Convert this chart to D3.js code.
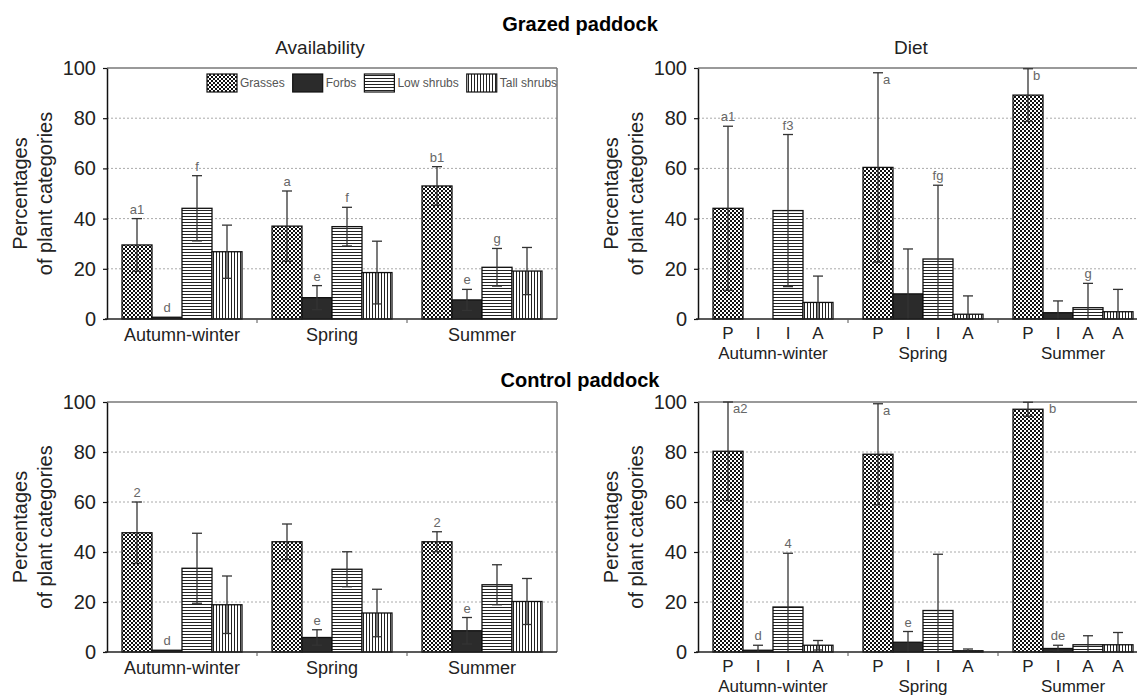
<!DOCTYPE html>
<html>
<head>
<meta charset="utf-8">
<script src="https://cdn.jsdelivr.net/npm/d3@7"></script>
<style>
  body { margin: 0; background: #fff; }
  svg { font-family: "Liberation Sans", Arial, sans-serif; }
</style>
</head>
<body>
<svg id="chart" width="1137" height="695"></svg>
<script>
const seasons = ["Autumn-winter", "Spring", "Summer"];
const plantTypes = ["Grasses", "Forbs", "Low shrubs", "Tall shrubs"];
const yTicks = [0, 20, 40, 60, 80, 100];

// Grazed paddock - availability (mean, error, letters) per season: [grasses, forbs, low, tall]
const grazedAvailMean = [[29.5, 0.7, 44.1, 26.8], [37.0, 8.5, 36.8, 18.5], [53.0, 7.6, 20.6, 19.1]];
const grazedAvailErr = [[10.5, 0, 13.0, 10.6], [14.0, 4.8, 7.7, 12.5], [7.7, 4.2, 7.5, 9.4]];
const grazedAvailSig = [["a1", "d", "f", ""], ["a", "e", "f", ""], ["b1", "e", "g", ""]];

// Grazed paddock - diet
const grazedDietMean = [[44.1, 0, 43.2, 6.6], [60.4, 10.0, 23.9, 1.9], [89.2, 2.5, 4.5, 2.9]];
const grazedDietErr = [[32.7, 0, 30.3, 10.5], [37.7, 17.9, 29.4, 7.3], [10.5, 4.7, 9.7, 8.9]];
const grazedDietSig = [["a1", "", "f3", ""], ["a", "", "fg", ""], ["b", "", "g", ""]];
const grazedDietCodes = [["P", "I", "I", "A"], ["P", "I", "I", "A"], ["P", "I", "A", "A"]];

// Control paddock - availability
const controlAvailMean = [[47.7, 0.7, 33.5, 18.9], [44.1, 5.8, 33.1, 15.6], [44.1, 8.5, 26.9, 20.2]];
const controlAvailErr = [[12.3, 0, 14.0, 11.5], [7.1, 3.1, 7.0, 9.5], [4.0, 5.3, 8.0, 9.2]];
const controlAvailSig = [["2", "d", "", ""], ["", "e", "", ""], ["2", "e", "", ""]];

// Control paddock - diet
const controlDietMean = [[80.3, 0.7, 18.0, 2.7], [79.1, 3.9, 16.6, 0.5], [97.1, 1.4, 2.9, 2.9]];
const controlDietErr = [[19.7, 2.0, 21.5, 1.9], [20.2, 4.3, 22.5, 0.7], [2.8, 1.3, 3.6, 4.9]];
const controlDietSig = [["a2", "d", "4", ""], ["a", "e", "", ""], ["b", "de", "", ""]];
const controlDietCodes = [["P", "I", "I", "A"], ["P", "I", "I", "A"], ["P", "I", "A", "A"]];

const svg = d3.select("#chart");

// Fill patterns for plant categories
const defs = svg.append("defs");

const grassPat = defs.append("pattern")
  .attr("id", "pat-grass")
  .attr("patternUnits", "userSpaceOnUse")
  .attr("width", 4).attr("height", 4);
grassPat.append("rect").attr("width", 4).attr("height", 4).attr("fill", "#fff");
grassPat.append("rect").attr("width", 2).attr("height", 2).attr("fill", "#111");
grassPat.append("rect").attr("x", 2).attr("y", 2).attr("width", 2).attr("height", 2).attr("fill", "#111");

const lowPat = defs.append("pattern")
  .attr("id", "pat-low")
  .attr("patternUnits", "userSpaceOnUse")
  .attr("width", 4).attr("height", 3);
lowPat.append("rect").attr("width", 4).attr("height", 3).attr("fill", "#fff");
lowPat.append("rect").attr("y", 1).attr("width", 4).attr("height", 1).attr("fill", "#222");

const tallPat = defs.append("pattern")
  .attr("id", "pat-tall")
  .attr("patternUnits", "userSpaceOnUse")
  .attr("width", 3).attr("height", 4);
tallPat.append("rect").attr("width", 3).attr("height", 4).attr("fill", "#fff");
tallPat.append("rect").attr("x", 1).attr("width", 1).attr("height", 4).attr("fill", "#222");

const fills = d3.scaleOrdinal()
  .domain(plantTypes)
  .range(["url(#pat-grass)", "#2b2b2b", "url(#pat-low)", "url(#pat-tall)"]);

// Section headings
svg.append("text")
  .attr("x", 580).attr("y", 31)
  .attr("text-anchor", "middle")
  .style("font-size", "20px").style("font-weight", "bold")
  .text("Grazed paddock");

svg.append("text")
  .attr("x", 580).attr("y", 387)
  .attr("text-anchor", "middle")
  .style("font-size", "20px").style("font-weight", "bold")
  .text("Control paddock");

function drawPanel(p) {
  const g = svg.append("g").attr("transform", `translate(${p.x},${p.y})`);

  const y = d3.scaleLinear().domain([0, 100]).range([p.h, 0]);
  const x0 = d3.scaleBand().domain(seasons).range([0, p.w]).padding(0);
  const x1 = d3.scaleBand().domain(plantTypes).range([0, x0.bandwidth()])
    .paddingInner(0).paddingOuter(0.5);

  // Dotted gridlines
  g.selectAll(".grid")
    .data(yTicks.filter(t => t > 0 && t < 100))
    .enter().append("line")
    .attr("x1", 0).attr("x2", p.w)
    .attr("y1", d => y(d)).attr("y2", d => y(d))
    .attr("stroke", "#aaa")
    .attr("stroke-dasharray", "2,2");

  // Frame top and right
  g.append("line")
    .attr("x1", 0).attr("x2", p.w).attr("y1", y(100)).attr("y2", y(100))
    .attr("stroke", "#777").attr("stroke-width", 1.5);
  g.append("line")
    .attr("x1", p.w).attr("x2", p.w).attr("y1", y(100)).attr("y2", y(0))
    .attr("stroke", "#777").attr("stroke-width", 1.5);

  // Flatten the season x plant-type grid into rows
  const rows = [];
  seasons.forEach((s, i) => {
    plantTypes.forEach((t, j) => {
      rows.push({
        season: s, type: t,
        mean: p.mean[i][j], err: p.err[i][j],
        sig: p.sig[i][j],
        code: p.codes ? p.codes[i][j] : null
      });
    });
  });
  const cx = d => x0(d.season) + x1(d.type) + x1.bandwidth() / 2;

  // Bars
  g.selectAll(".bar")
    .data(rows.filter(d => d.mean > 0))
    .enter().append("rect")
    .attr("class", "bar")
    .attr("x", d => x0(d.season) + x1(d.type))
    .attr("y", d => y(d.mean))
    .attr("width", x1.bandwidth())
    .attr("height", d => y(0) - y(d.mean))
    .attr("fill", d => fills(d.type))
    .attr("stroke", "#111")
    .attr("stroke-width", 1.3);

  // Error bars
  const errRows = rows.filter(d => d.err > 0);
  const eb = g.selectAll(".err")
    .data(errRows)
    .enter().append("g")
    .attr("class", "err")
    .attr("stroke", "#333")
    .attr("stroke-width", 1.3);
  eb.append("line")
    .attr("x1", cx).attr("x2", cx)
    .attr("y1", d => y(Math.min(100, d.mean + d.err)))
    .attr("y2", d => y(Math.max(0, d.mean - d.err)));
  eb.append("line")
    .attr("x1", d => cx(d) - 5).attr("x2", d => cx(d) + 5)
    .attr("y1", d => y(Math.min(100, d.mean + d.err)))
    .attr("y2", d => y(Math.min(100, d.mean + d.err)));
  eb.filter(d => d.mean - d.err > 0).append("line")
    .attr("x1", d => cx(d) - 5).attr("x2", d => cx(d) + 5)
    .attr("y1", d => y(d.mean - d.err))
    .attr("y2", d => y(d.mean - d.err));

  // Significance letters: above the bar, or beside the cap when it reaches the top
  const atTop = d => d.mean + d.err >= 95;
  g.selectAll(".sig")
    .data(rows.filter(d => d.sig))
    .enter().append("text")
    .attr("class", "sig")
    .attr("x", d => {
      if (!atTop(d)) return cx(d);
      return d.mean > 90 ? cx(d) + x1.bandwidth() / 2 + 6 : cx(d) + 5;
    })
    .attr("y", d => (atTop(d)
      ? y(Math.min(100, d.mean + d.err)) + 11
      : y(d.mean + d.err) - 5))
    .attr("text-anchor", d => (atTop(d) ? "start" : "middle"))
    .style("font-size", "13px")
    .style("fill", "#666")
    .text(d => d.sig);

  // Y axis
  const yAxis = g.append("g")
    .call(d3.axisLeft(y).tickValues(yTicks).tickSize(4).tickSizeOuter(0).tickPadding(7));
  yAxis.select(".domain").attr("stroke", "#111").attr("stroke-width", 1.5);
  yAxis.selectAll(".tick line").attr("stroke", "#111").attr("stroke-width", 1.2);
  yAxis.selectAll(".tick text")
    .style("font-size", "20px")
    .style("font-family", "'Liberation Sans', Arial, sans-serif")
    .attr("fill", "#222");

  // X axis baseline and season separators
  g.append("line")
    .attr("x1", -2).attr("x2", p.w)
    .attr("y1", y(0)).attr("y2", y(0))
    .attr("stroke", "#222").attr("stroke-width", 1.5);
  g.selectAll(".sep")
    .data(seasons.slice(1))
    .enter().append("line")
    .attr("x1", d => x0(d)).attr("x2", d => x0(d))
    .attr("y1", y(0)).attr("y2", y(0) + 4)
    .attr("stroke", "#555");

  const centre = d => x0(d) + x0.bandwidth() / 2;
  if (p.codes) {
    g.selectAll(".code")
      .data(rows)
      .enter().append("text")
      .attr("x", cx)
      .attr("y", y(0) + 20)
      .attr("text-anchor", "middle")
      .style("font-size", "17px")
      .style("fill", "#222")
      .text(d => d.code);
    g.selectAll(".season")
      .data(seasons)
      .enter().append("text")
      .attr("x", centre)
      .attr("y", y(0) + 40)
      .attr("text-anchor", "middle")
      .style("font-size", "17px")
      .style("fill", "#222")
      .text(d => d);
  } else {
    g.selectAll(".season")
      .data(seasons)
      .enter().append("text")
      .attr("x", centre)
      .attr("y", y(0) + 22)
      .attr("text-anchor", "middle")
      .style("font-size", "18px")
      .style("fill", "#222")
      .text(d => d);
  }

  // Y axis title on two lines
  const yt = g.append("text")
    .attr("transform", `translate(-80,${p.h / 2}) rotate(-90)`)
    .attr("text-anchor", "middle")
    .style("font-size", "20px")
    .style("fill", "#222");
  yt.append("tspan").attr("x", 0).attr("dy", 0).text("Percentages");
  yt.append("tspan").attr("x", 0).attr("dy", 25).text("of plant categories");

  if (p.title) {
    g.append("text")
      .attr("x", p.w / 2 - 12).attr("y", -14)
      .attr("text-anchor", "middle")
      .style("font-size", "19px")
      .style("fill", "#222")
      .text(p.title);
  }

  if (p.legend) {
    let lx = 100;
    plantTypes.forEach(t => {
      g.append("rect")
        .attr("x", lx).attr("y", 6)
        .attr("width", 30).attr("height", 18)
        .attr("fill", fills(t))
        .attr("stroke", "#111").attr("stroke-width", 1.2);
      const lt = g.append("text")
        .attr("x", lx + 33).attr("y", 19)
        .style("font-size", "12px")
        .style("fill", "#555")
        .text(t);
      lx += 33 + lt.node().getComputedTextLength() + 8;
    });
  }
}

drawPanel({ x: 107, y: 68, w: 450, h: 251, mean: grazedAvailMean, err: grazedAvailErr,
  sig: grazedAvailSig, title: "Availability", legend: true });
drawPanel({ x: 698, y: 68, w: 450, h: 251, mean: grazedDietMean, err: grazedDietErr,
  sig: grazedDietSig, codes: grazedDietCodes, title: "Diet" });
drawPanel({ x: 107, y: 402, w: 450, h: 250, mean: controlAvailMean, err: controlAvailErr,
  sig: controlAvailSig });
drawPanel({ x: 698, y: 402, w: 450, h: 250, mean: controlDietMean, err: controlDietErr,
  sig: controlDietSig, codes: controlDietCodes });
</script>
</body>
</html>
